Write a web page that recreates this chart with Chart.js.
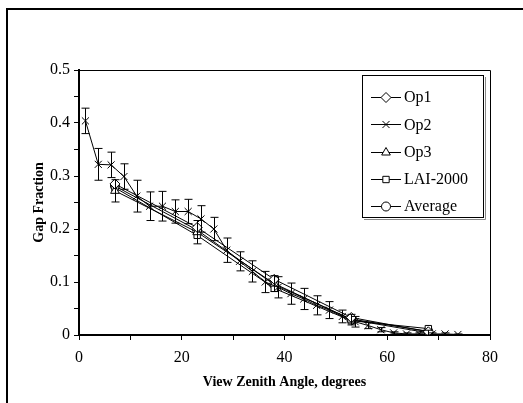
<!DOCTYPE html>
<html>
<head>
<meta charset="utf-8">
<script src="https://cdn.jsdelivr.net/npm/chart.js@4.4.1/dist/chart.umd.min.js"></script>
<style>
  html, body { margin: 0; padding: 0; background: #fff; }
  #wrap { width: 523px; height: 403px; }
</style>
</head>
<body>
<div id="wrap"><canvas id="myChart" width="523" height="403"></canvas></div>
<script>
// Op2 was read every 2.5 degrees, the others at the LAI-2000 ring angles
let op2Angles = [1.25, 3.75, 6.25, 8.75, 11.25, 13.75, 16.25, 18.75, 21.25, 23.75,
    26.25, 28.75, 31.25, 33.75, 36.25, 38.75, 41.25, 43.75, 46.25, 48.75,
    51.25, 53.75, 56.25, 58.75, 61.25, 63.75, 66.25, 68.75, 71.25, 73.75];
let op2 = [0.404, 0.322, 0.321, 0.299, 0.262, 0.243, 0.243, 0.233, 0.233, 0.219,
    0.200, 0.160, 0.139, 0.120, 0.100, 0.090, 0.078, 0.068, 0.056, 0.047,
    0.035, 0.025, 0.018, 0.010, 0.004, 0.002, 0.002, 0.002, 0.002, 0.001];
let op2Err = [0.024, 0.03, 0.024, 0.024, 0.03, 0.027, 0.028, 0.022, 0.023, 0.025,
    0.022, 0.023, 0.018, 0.02, 0.02, 0.02, 0.02, 0.02, 0.018, 0.016,
    0.012, 0.01, 0.006, 0.004, 0.002, 0.002, 0.002, 0.002, 0.002, 0.001];

let ringAngles = [7, 23, 38, 53, 68];
let op1 = [0.285, 0.203, 0.105, 0.033, 0.006];
let op3 = [0.272, 0.194, 0.097, 0.029, 0.004];
let op3Err = [0.021, 0.022, 0.015, 0.01, 0.005];
let lai = [0.278, 0.188, 0.088, 0.027, 0.012];
let avg = [0.281, 0.198, 0.095, 0.030, 0.007];

let labels = ["Op1", "Op2", "Op3", "LAI-2000", "Average"];
let xTicks = [0, 20, 40, 60, 80];
let yTicks = [0, 0.1, 0.2, 0.3, 0.4, 0.5];

const serif = "'Liberation Serif', 'Times New Roman', serif";

function pts(xs, ys) {
    return xs.map((x, i) => ({ x: x, y: ys[i] }));
}

function makeSet(label, xs, ys, style, radius, errs) {
    return {
        label: label,
        data: pts(xs, ys),
        errs: errs,
        showLine: true,
        borderColor: "#000",
        borderWidth: 1,
        pointStyle: style,
        pointRadius: radius,
        pointBorderColor: "#000",
        pointBackgroundColor: "#fff",
        pointBorderWidth: 1,
        tension: 0
    };
}

// error bars, drawn from the scales
const errorBars = {
    id: "errorBars",
    afterDatasetsDraw(chart) {
        const ctx = chart.ctx;
        const xs = chart.scales.x, ys = chart.scales.y;
        ctx.save();
        ctx.strokeStyle = "#000";
        ctx.lineWidth = 1;
        chart.data.datasets.forEach(ds => {
            if (!ds.errs) return;
            ds.data.forEach((p, i) => {
                const e = ds.errs[i];
                const px = Math.round(xs.getPixelForValue(p.x)) + 0.5;
                const top = ys.getPixelForValue(p.y + e);
                const bot = ys.getPixelForValue(Math.max(0, p.y - e));
                ctx.beginPath();
                ctx.moveTo(px, top); ctx.lineTo(px, bot);
                ctx.moveTo(px - 4, top); ctx.lineTo(px + 4, top);
                ctx.moveTo(px - 4, bot); ctx.lineTo(px + 4, bot);
                ctx.stroke();
            });
        });
        ctx.restore();
    }
};

// outer frame, plot box and the boxed legend
const frame = {
    id: "frame",
    beforeDraw(chart) {
        const ctx = chart.ctx;
        ctx.save();
        ctx.fillStyle = "#fff";
        ctx.fillRect(0, 0, chart.width, chart.height);
        ctx.strokeStyle = "#000";
        ctx.lineWidth = 2;
        ctx.beginPath();
        ctx.moveTo(7, chart.height);
        ctx.lineTo(7, 9);
        ctx.lineTo(chart.width, 9);
        ctx.stroke();
        ctx.restore();
    },
    afterDraw(chart) {
        const ctx = chart.ctx;
        const a = chart.chartArea;
        ctx.save();
        ctx.strokeStyle = "#000";
        ctx.lineWidth = 1;
        ctx.beginPath();
        ctx.moveTo(a.left, a.top + 0.5);
        ctx.lineTo(a.right + 0.5, a.top + 0.5);
        ctx.lineTo(a.right + 0.5, a.bottom);
        ctx.stroke();

        const lx = 362, ly = 75, lw = 121, lh = 142;
        ctx.fillStyle = "#fff";
        ctx.fillRect(lx, ly, lw, lh);
        ctx.strokeStyle = "#888";
        ctx.beginPath();
        ctx.moveTo(lx + lw + 2.5, ly + 2);
        ctx.lineTo(lx + lw + 2.5, ly + lh + 2.5);
        ctx.lineTo(lx + 2, ly + lh + 2.5);
        ctx.stroke();
        ctx.strokeStyle = "#000";
        ctx.strokeRect(lx + 0.5, ly + 0.5, lw, lh);

        ctx.font = "16px " + serif;
        ctx.fillStyle = "#000";
        ctx.textBaseline = "middle";
        chart.data.datasets.forEach((ds, i) => {
            const y = ly + 22 + i * 27.3;
            ctx.beginPath();
            ctx.moveTo(371, Math.round(y) + 0.5);
            ctx.lineTo(401, Math.round(y) + 0.5);
            ctx.stroke();
            ctx.fillStyle = "#fff";
            Chart.helpers.drawPoint(ctx, {
                pointStyle: ds.pointStyle, radius: ds.pointRadius, borderWidth: 1
            }, 386, Math.round(y) + 0.5);
            ctx.fillStyle = "#000";
            ctx.fillText(ds.label, 404, y + 1);
        });
        ctx.restore();
    }
};

function createChart() {
    const ctx = document.getElementById("myChart");
    new Chart(ctx, {
        type: "scatter",
        data: {
            datasets: [
                makeSet(labels[0], ringAngles, op1, "rectRot", 5),
                makeSet(labels[1], op2Angles, op2, "crossRot", 5, op2Err),
                makeSet(labels[2], ringAngles, op3, "triangle", 5, op3Err),
                makeSet(labels[3], ringAngles, lai, "rect", 4.5),
                makeSet(labels[4], ringAngles, avg, "circle", 4.5)
            ]
        },
        options: {
            responsive: false,
            animation: false,
            layout: { padding: { left: 27, top: 70, right: 33, bottom: 12 } },
            plugins: {
                legend: { display: false },
                tooltip: { enabled: false }
            },
            scales: {
                x: {
                    type: "linear",
                    min: 0, max: 80,
                    afterFit: s => { s.height = 56; },
                    afterBuildTicks: s => {
                        s.ticks = [0, 10, 20, 30, 40, 50, 60, 70, 80].map(v => ({ value: v }));
                    },
                    ticks: {
                        color: "#000",
                        font: { family: serif, size: 16 },
                        padding: 8,
                        maxRotation: 0,
                        callback: v => xTicks.includes(v) ? String(v) : ""
                    },
                    grid: { drawOnChartArea: false, tickLength: 5, color: "#000", tickColor: "#000" },
                    border: { color: "#000", width: 2 },
                    title: {
                        display: true,
                        text: "View Zenith Angle, degrees",
                        color: "#000",
                        font: { family: serif, size: 14, weight: "bold" },
                        padding: { top: 2, bottom: 0 }
                    }
                },
                y: {
                    type: "linear",
                    min: 0, max: 0.5,
                    afterFit: s => { s.width = 52; },
                    afterBuildTicks: s => {
                        s.ticks = [0, 0.05, 0.1, 0.15, 0.2, 0.25, 0.3, 0.35, 0.4, 0.45, 0.5].map(v => ({ value: v }));
                    },
                    ticks: {
                        color: "#000",
                        font: { family: serif, size: 16 },
                        padding: 4,
                        callback: v => {
                            const t = yTicks.find(k => Math.abs(k - v) < 1e-6);
                            return t === undefined ? "" : String(t);
                        }
                    },
                    grid: { drawOnChartArea: false, tickLength: 5, color: "#000", tickColor: "#000" },
                    border: { color: "#000", width: 2 },
                    title: {
                        display: true,
                        text: "Gap Fraction",
                        color: "#000",
                        font: { family: serif, size: 14, weight: "bold" },
                        padding: { top: 4, bottom: 0 }
                    }
                }
            }
        },
        plugins: [frame, errorBars]
    });
}

createChart();
</script>
</body>
</html>
